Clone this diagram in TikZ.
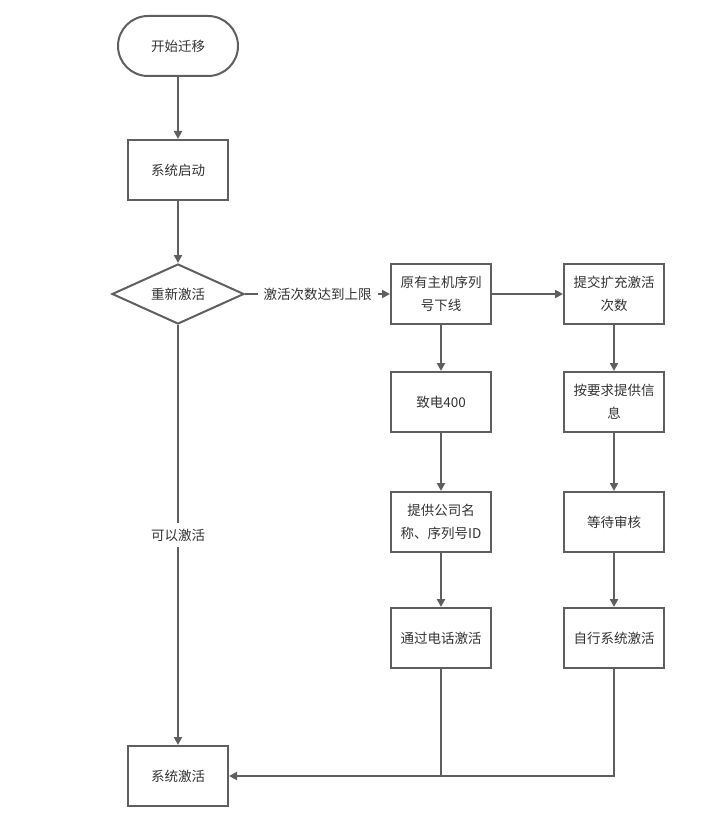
\documentclass[tikz,border=0pt]{standalone}
\usepackage{fontspec}
\setmainfont{Noto Sans CJK SC}
\usetikzlibrary{shapes.geometric,arrows.meta}
\definecolor{ln}{HTML}{5F5F5F}
\definecolor{tx}{HTML}{333333}
\begin{document}
\begin{tikzpicture}[x=1pt,y=-1pt,
  every node/.style={font=\fontsize{13.5}{23}\selectfont,text=tx},
  box/.style={draw=ln,line width=2pt,minimum width=100pt,minimum height=60pt,inner sep=0pt,align=center,text width=92pt},
  term/.style={draw=ln,line width=2pt,rounded corners=30pt,minimum width=120pt,minimum height=60pt,inner sep=0pt},
  dia/.style={draw=ln,line width=2pt,diamond,aspect=2.2,minimum width=132pt,minimum height=60pt,inner sep=0pt},
  conn/.style={draw=ln,line width=2pt,-{Triangle[length=8pt,width=8pt]}},
  plain/.style={draw=ln,line width=2pt},
  lbl/.style={fill=white,inner sep=6pt}]
\useasboundingbox (0,0) rectangle (708,840);
\node[term] (start) at (178,46) {开始迁移};
\node[box] (boot) at (178,170) {系统启动};
\node[dia] (react) at (178,294) {重新激活};
\node[box] (off) at (441,294) {原有主机序列\\号下线};
\node[box] (sub) at (614,294) {提交扩充激活\\次数};
\node[box] (call) at (441,402) {致电400};
\node[box] (info) at (614,402) {按要求提供信\\息};
\node[box] (comp) at (441,522) {提供公司名\\称、序列号ID};
\node[box] (wait) at (614,522) {等待审核};
\node[box] (phone) at (441,638) {通过电话激活};
\node[box] (self) at (614,638) {自行系统激活};
\node[box] (done) at (178,776) {系统激活};
\coordinate (j1) at (441,776);
\coordinate (j2) at (614,776);
\path[conn] (start) -- (boot);
\path[conn] (boot) -- (react);
\path[conn] (react) -- node[lbl] {激活次数达到上限} (off);
\path[conn] (off) -- (sub);
\path[conn] (off) -- (call);
\path[conn] (call) -- (comp);
\path[conn] (comp) -- (phone);
\path[conn] (sub) -- (info);
\path[conn] (info) -- (wait);
\path[conn] (wait) -- (self);
\path[conn] (react) -- node[lbl] {可以激活} (done);
\path[plain] (self) -- (j2) -- (j1);
\path[conn] (phone) |- (done);
\end{tikzpicture}
\end{document}
